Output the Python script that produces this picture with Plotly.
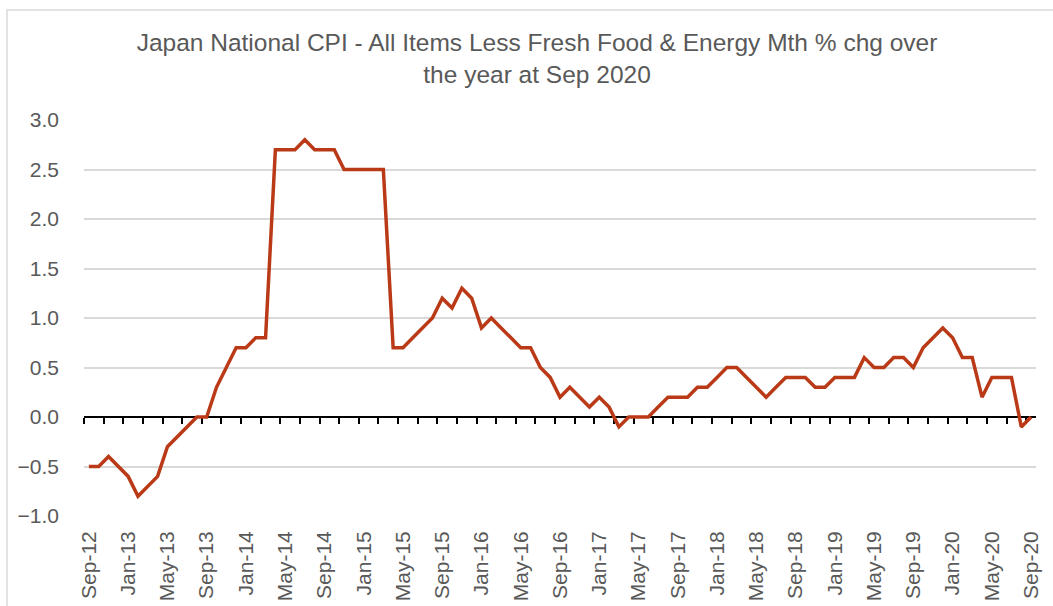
import pandas as pd
import plotly.graph_objects as go

# Monthly periods, Sep-2012 through Sep-2020
months = pd.date_range("2012-09-01", "2020-09-01", freq="MS")
month_labels = [m.strftime("%b-%y") for m in months]

# Core-core CPI, % change over the year
cpi_yoy = [
    -0.5, -0.5, -0.4, -0.5, -0.6, -0.8, -0.7, -0.6, -0.3, -0.2, -0.1, 0.0,   # Sep-12 .. Aug-13
    0.0, 0.3, 0.5, 0.7, 0.7, 0.8, 0.8, 2.7, 2.7, 2.7, 2.8, 2.7,              # Sep-13 .. Aug-14
    2.7, 2.7, 2.5, 2.5, 2.5, 2.5, 2.5, 0.7, 0.7, 0.8, 0.9, 1.0,              # Sep-14 .. Aug-15
    1.2, 1.1, 1.3, 1.2, 0.9, 1.0, 0.9, 0.8, 0.7, 0.7, 0.5, 0.4,              # Sep-15 .. Aug-16
    0.2, 0.3, 0.2, 0.1, 0.2, 0.1, -0.1, 0.0, 0.0, 0.0, 0.1, 0.2,             # Sep-16 .. Aug-17
    0.2, 0.2, 0.3, 0.3, 0.4, 0.5, 0.5, 0.4, 0.3, 0.2, 0.3, 0.4,              # Sep-17 .. Aug-18
    0.4, 0.4, 0.3, 0.3, 0.4, 0.4, 0.4, 0.6, 0.5, 0.5, 0.6, 0.6,              # Sep-18 .. Aug-19
    0.5, 0.7, 0.8, 0.9, 0.8, 0.6, 0.6, 0.2, 0.4, 0.4, 0.4, -0.1,             # Sep-19 .. Aug-20
    0.0,                                                                     # Sep-20
]

# Label every fourth month; tick marks every second month boundary
label_step = 4
tick_step = 2
x_idx = list(range(len(month_labels)))
label_pos = x_idx[::label_step]
label_text = month_labels[::label_step]
boundary_ticks = [i - 0.5 for i in range(0, len(month_labels) + 1, tick_step)]

y_ticks = [-1.0, -0.5, 0.0, 0.5, 1.0, 1.5, 2.0, 2.5, 3.0]

TEXT = "#595959"
GRID = "#D9D9D9"
FONT = "Liberation Sans, Arial, sans-serif"
LINE = "#BA3A17"

fig = go.Figure()
fig.add_trace(go.Scatter(
    x=x_idx, y=cpi_yoy, mode="lines",
    line=dict(color=LINE, width=3.5),
    hovertext=month_labels, showlegend=False,
))
# Empty trace so the zero-line axis (x2) gets its own subplot and is drawn
fig.add_trace(go.Scatter(x=[], y=[], xaxis="x2", yaxis="y",
                         showlegend=False, hoverinfo="skip"))

x_range = [-0.5, len(month_labels) - 0.5]
y_range = [-1.0, 3.0]

fig.update_layout(
    width=1053, height=606,
    margin=dict(l=84, r=17, t=120, b=90),
    paper_bgcolor="white", plot_bgcolor="white",
    font=dict(family=FONT, color=TEXT, size=21),
    title=dict(
        text="Japan National CPI - All Items Less Fresh Food & Energy Mth % chg over<br>the year at Sep 2020",
        font=dict(family=FONT, size=24.5, color=TEXT),
        x=0.51, xref="container", xanchor="center",
        y=1 - 51 / 606, yref="container", yanchor="top",
    ),
    xaxis=dict(
        range=x_range, showgrid=False, zeroline=False, showline=False,
        tickmode="array", tickvals=label_pos, ticktext=label_text,
        tickangle=-90, ticks="", ticklabelstandoff=10, automargin=False,
        tickfont=dict(size=21, color=TEXT),
    ),
    # Horizontal axis line through zero carrying the month tick marks
    xaxis2=dict(
        overlaying="x", anchor="free", position=0.25,
        range=x_range, showgrid=False, zeroline=False,
        showline=True, linecolor="black", linewidth=2,
        tickmode="array", tickvals=boundary_ticks,
        ticks="outside", ticklen=6, tickwidth=2, tickcolor="black",
        showticklabels=False, layer="below traces", automargin=False,
    ),
    yaxis=dict(
        range=y_range, tickmode="array", tickvals=y_ticks,
        tickformat=".1f", showgrid=True, gridcolor=GRID, gridwidth=1.5,
        zeroline=False, showline=False, ticks="", ticklabelstandoff=24,
        tickfont=dict(size=21, color=TEXT), automargin=False,
    ),
    shapes=[dict(
        type="rect", xref="paper", yref="paper",
        x0=(7 - 84) / 952, x1=(1062 - 84) / 952,
        y0=(516 - 620) / 396, y1=(516 - 10) / 396,
        line=dict(color=GRID, width=1.5), fillcolor="rgba(0,0,0,0)",
        layer="below",
    )],
)

fig.write_html("out.html")
